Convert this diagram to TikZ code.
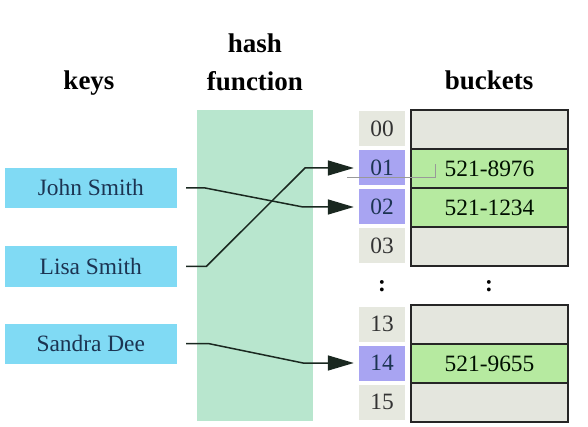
\documentclass[tikz,border=0pt]{standalone}
\usepackage{fontspec}
\setmainfont{Liberation Serif}
\usetikzlibrary{arrows.meta}
\definecolor{keycyan}{RGB}{128,218,244}
\definecolor{hashgreen}{RGB}{184,230,206}
\definecolor{idxgray}{RGB}{230,232,223}
\definecolor{idxpurple}{RGB}{168,164,242}
\definecolor{bktgreen}{RGB}{182,234,160}
\definecolor{bktgray}{RGB}{228,230,222}
\definecolor{navytext}{RGB}{28,52,82}
\definecolor{linecol}{RGB}{26,40,32}
\tikzset{
  txt/.style={font=\fontsize{23.4}{28}\selectfont, text height=15.5pt, text depth=0pt, inner sep=0pt},
  title/.style={font=\bfseries\fontsize{27}{32}\selectfont, anchor=base, inner sep=0pt},
  keybox/.style={txt, fill=keycyan, text=navytext, minimum width=172.5pt, minimum height=40pt},
  idxcell/.style={txt, fill=idxgray, text=black!80, minimum width=46pt, minimum height=35pt},
  idxhl/.style={idxcell, fill=idxpurple, text=navytext},
  bktrow/.style={txt, draw=black!85, line width=1.6pt, minimum width=157pt, minimum height=39pt, text=black!85!green!40!black},
  bktempty/.style={bktrow, fill=bktgray},
  bktfull/.style={bktrow, fill=bktgreen},
  conn/.style={draw=linecol, line width=1.5pt, -{Triangle[length=26pt,width=15pt]}},
  dots/.style={font=\bfseries\fontsize{23.4}{28}\selectfont, inner sep=0pt}
}
\begin{document}
\begin{tikzpicture}[x=1pt,y=-1pt]
\useasboundingbox[fill=white] (0,0) rectangle (588,427);
% titles
\node[title] (thash) at (255,53) {hash};
\node[title] (tfunc) at (255,90.5) {function};
\node[title] (tkeys) at (89,90) {keys};
\node[title] (tbkts) at (489,90) {buckets};
% hash function column
\node[fill=hashgreen, minimum width=116pt, minimum height=311pt, inner sep=0pt] (hash) at (255,265.5) {};
% keys
\node[keybox] (john) at (90.75,188) {John Smith};
\node[keybox] (lisa) at (90.75,266.5) {Lisa Smith};
\node[keybox] (sandra) at (90.75,343.5) {Sandra Dee};
% index cells
\node[idxcell] (i00) at (382,129) {00};
\node[idxhl]   (i01) at (382,168) {01};
\node[idxhl]   (i02) at (382,207) {02};
\node[idxcell] (i03) at (382,246) {03};
\node[idxcell] (i13) at (382,324) {13};
\node[idxhl]   (i14) at (382,363) {14};
\node[idxcell] (i15) at (382,402) {15};
% buckets
\node[bktempty] (b00) at (489.5,129.5) {};
\node[bktfull]  (b01) at (489.5,168.5) {521-8976};
\node[bktfull]  (b02) at (489.5,207.5) {521-1234};
\node[bktempty] (b03) at (489.5,246.5) {};
\node[bktempty] (b13) at (489.5,324.5) {};
\node[bktfull]  (b14) at (489.5,363.5) {521-9655};
\node[bktempty] (b15) at (489.5,402.5) {};
% ellipsis dots
\node[dots] (d1) at (382,286) {:};
\node[dots] (d2) at (489,286) {:};
% faint pointer line
\coordinate (g1) at (347,177);
\coordinate (g2) at (435,177);
\coordinate (g3) at (435,164);
\draw[color=gray!80, line width=0.9pt] (g1) -- (g2) -- (g3);
% connectors
\draw[conn] ([xshift=9pt]john.east) -- ++(19,0) -- (303,207) -- ([xshift=-5pt]i02.west);
\draw[conn] ([xshift=9pt]lisa.east) -- ++(20,0) -- (305,168) -- ([xshift=-5pt]i01.west);
\draw[conn] ([xshift=9pt]sandra.east) -- ++(22,0) -- (303,363) -- ([xshift=-5pt]i14.west);
\end{tikzpicture}
\end{document}
